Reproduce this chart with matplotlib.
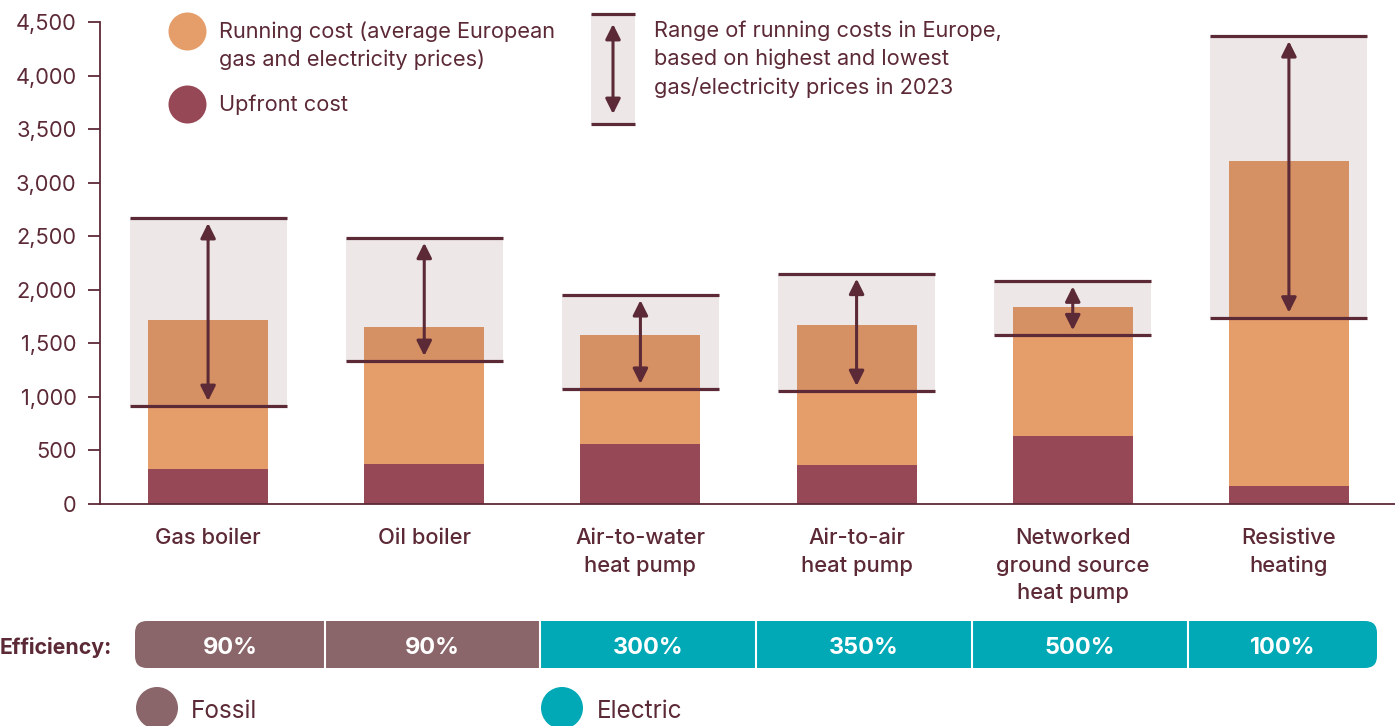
import matplotlib
matplotlib.use("Agg")
import matplotlib.pyplot as plt
from matplotlib.patches import Rectangle, FancyBboxPatch, Circle
from matplotlib.ticker import FuncFormatter
import numpy as np

# ---- data -------------------------------------------------------------
categories = ["Gas boiler", "Oil boiler", "Air-to-water\nheat pump",
              "Air-to-air\nheat pump", "Networked\nground source\nheat pump",
              "Resistive\nheating"]
upfront_cost = [330, 375, 560, 365, 635, 170]
running_cost = [1390, 1280, 1020, 1305, 1205, 3030]
range_low = [915, 1335, 1075, 1055, 1575, 1740]
range_high = [2670, 2485, 1950, 2150, 2078, 4368]
efficiency = ["90%", "90%", "300%", "350%", "500%", "100%"]
energy_type = ["Fossil", "Fossil", "Electric", "Electric", "Electric", "Electric"]
y_ticks = list(range(0, 4501, 500))

# ---- style ------------------------------------------------------------
W, H = 1395, 726
DARK = "#5C2A36"
ORANGE = "#E59D6A"
MAROON = "#974856"
FOSSIL = "#8A6569"
ELECTRIC = "#00A9B5"
FS = 15.7
LS = 1.45

plt.rcParams["font.family"] = ["Inter", "DejaVu Sans"]
fig = plt.figure(figsize=(W / 100, H / 100), dpi=100)


def fx(px):
    return px / W


def fy(py):
    return 1 - py / H


# ---- main chart ---------------------------------------------------------
ax = fig.add_axes([fx(100), fy(504), fx(1395) - fx(100), fy(22) - fy(504)])
ax.set_facecolor("none")
x = np.arange(len(categories))
bar_w = 120 / 216
box_w = 157 / 216

ax.bar(x, upfront_cost, width=bar_w, color=MAROON, lw=0, zorder=2)
ax.bar(x, running_cost, bottom=upfront_cost, width=bar_w, color=ORANGE,
       lw=0, zorder=2)

arrow_style = dict(arrowstyle="<|-|>,head_length=0.6,head_width=0.3",
                   mutation_scale=15, color=DARK, lw=2.2,
                   shrinkA=3.6, shrinkB=3.6)

for i, (lo, hi) in enumerate(zip(range_low, range_high)):
    ax.add_patch(Rectangle((i - box_w / 2, lo), box_w, hi - lo,
                           facecolor=DARK, alpha=0.11, lw=0, zorder=3))
    ax.hlines([lo, hi], i - box_w / 2, i + box_w / 2, color=DARK, lw=2.3,
              zorder=4)
    ax.annotate("", xy=(i, hi), xytext=(i, lo), arrowprops=arrow_style,
                zorder=5)

ax.set_xlim(-0.5, 5 + 106 / 216)
ax.set_ylim(0, 4500)
ax.set_yticks(y_ticks)
ax.yaxis.set_major_formatter(FuncFormatter(lambda v, p: f"{int(v):,}"))
ax.set_xticks(x)
ax.set_xticklabels(categories, linespacing=LS, fontsize=15.8, color=DARK,
                   fontweight="medium")
for s in ("top", "right"):
    ax.spines[s].set_visible(False)
for s in ("left", "bottom"):
    ax.spines[s].set_color(DARK)
    ax.spines[s].set_linewidth(1.3)
ax.tick_params(axis="y", length=9, width=1.3, color=DARK, labelcolor=DARK,
               labelsize=FS, pad=8)
ax.tick_params(axis="x", length=0, pad=17.5)

# ---- overlay in pixel units for legends and efficiency strip -----------
ov = fig.add_axes([0, 0, 1, 1])
ov.set_xlim(0, W)
ov.set_ylim(H, 0)
ov.axis("off")

# cost legend
ov.add_patch(Circle((187.5, 31.5), 19, color=ORANGE, lw=0))
ov.add_patch(Circle((187.5, 104.5), 19, color=MAROON, lw=0))
ov.text(219, 45.5, "Running cost (average European\ngas and electricity prices)",
        va="center", ha="left", fontsize=FS, color=DARK, linespacing=LS)
ov.text(219, 105, "Upfront cost", va="center", ha="left", fontsize=FS,
        color=DARK)

# range legend
ov.add_patch(Rectangle((591, 14), 44, 110, facecolor=DARK, alpha=0.11, lw=0))
ov.hlines([14, 124], 591, 635, color=DARK, lw=2.3)
ov.annotate("", xy=(613, 19), xytext=(613, 119), arrowprops=arrow_style)
ov.text(654, 59, "Range of running costs in Europe,\nbased on highest and lowest\n"
        "gas/electricity prices in 2023", va="center", ha="left", fontsize=FS,
        color=DARK, linespacing=LS)

# efficiency strip
edges = [135, 325, 540, 756, 972, 1188, 1377]
top, height = 621, 47
clip = FancyBboxPatch((edges[0], top), edges[-1] - edges[0], height,
                      boxstyle="round,pad=0,rounding_size=12",
                      fc="none", ec="none")
ov.add_patch(clip)
for i, (label, kind) in enumerate(zip(efficiency, energy_type)):
    x0, x1 = edges[i], edges[i + 1]
    seg = Rectangle((x0, top), x1 - x0, height, lw=0,
                    facecolor=FOSSIL if kind == "Fossil" else ELECTRIC)
    ov.add_patch(seg)
    seg.set_clip_path(clip)
    ov.text((x0 + x1) / 2, top + height / 2 + 4, label, ha="center",
            va="center", color="white", fontsize=16.9, fontweight="bold")
ov.vlines(edges[1:-1], top, top + height, color="white", lw=1.5)
ov.text(0, top + height / 2 + 3.5, "Efficiency:", ha="left", va="center",
        fontsize=15.35, fontweight="bold", color=DARK)

# fossil / electric legend
ov.add_patch(Circle((157, 708), 21, color=FOSSIL, lw=0))
ov.text(191, 711, "Fossil", va="center", ha="left", fontsize=17.5, color=DARK)
ov.add_patch(Circle((562, 708), 21, color=ELECTRIC, lw=0))
ov.text(597, 711, "Electric", va="center", ha="left", fontsize=17.5, color=DARK)

fig.savefig("out.png", dpi=100)
